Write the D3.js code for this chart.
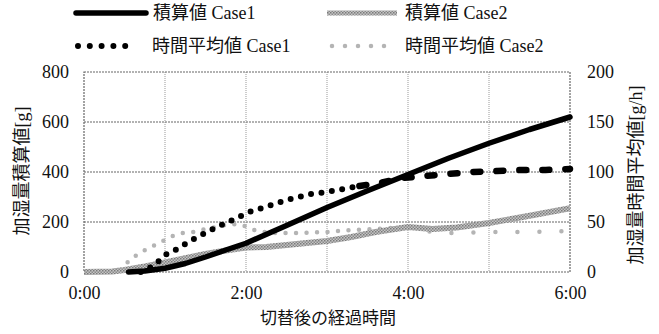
<!DOCTYPE html>
<html>
<head>
<meta charset="utf-8">
<script src="https://cdn.jsdelivr.net/npm/d3@7"></script>
<style>
  body { margin: 0; background: #fff; }
  text { font-family: "Liberation Serif", "Noto Sans CJK JP", serif; fill: #111; }
</style>
</head>
<body>
<div id="chart"></div>
<script>
// hours after switching / values
var cum1T = [0.55, 0.75, 1, 1.25, 1.5, 1.75, 2, 2.5, 3, 3.5, 4, 4.5, 5, 5.5, 6];
var cum1V = [0, 4, 15, 34, 60, 88, 115, 186, 258, 325, 390, 455, 515, 570, 620];

var cum2T = [0, 0.35, 0.5, 0.75, 1, 1.25, 1.5, 1.75, 2, 2.25, 2.5, 3, 3.3, 3.6, 4, 4.3, 4.6, 5, 5.5, 6];
var cum2V = [0, 2, 8, 22, 38, 55, 72, 86, 98, 100, 108, 124, 140, 160, 180, 172, 178, 196, 225, 255];

var avg1T = [0.7, 0.81, 0.91, 1.02, 1.15, 1.27, 1.4, 1.52, 1.64, 1.78, 1.91, 2.04, 2.2, 2.35, 2.5, 2.65, 2.8, 3, 3.2, 3.4, 3.65, 3.93, 4.2, 4.5, 4.8, 5.1, 5.4, 5.7, 6];
var avg1V = [0, 4, 10, 18, 23, 29, 35, 40, 45, 50, 55, 60, 64, 68, 72, 75, 78, 80, 83, 86, 89, 94, 96, 98, 100, 101, 102, 102, 103];

var avg2T = [0.45, 0.48, 0.58, 0.69, 0.8, 0.93, 1.06, 1.22, 1.35, 1.5, 1.64, 1.8, 1.95, 2.1, 2.3, 2.6, 3, 3.3, 3.6, 4, 4.2, 4.5, 5, 5.5, 6];
var avg2V = [2, 5, 13, 19, 24, 29, 35, 39, 40, 43, 45, 48, 47, 42, 39, 39, 40, 42, 43, 45, 41, 39, 40, 40, 41];

var xTicks = [0, 2, 4, 6];
var yLeftTicks = [0, 200, 400, 600, 800];
var yRightTicks = [0, 50, 100, 150, 200];

var legendNames = ["積算値 Case1", "積算値 Case2", "時間平均値 Case1", "時間平均値 Case2"];
var xTitle = "切替後の経過時間";
var yLeftTitle = "加湿量積算値[g]";
var yRightTitle = "加湿量時間平均値[g/h]";

var width = 659, height = 334;
// plot box in pixels
var plotL = 84, plotR = 570, plotT = 72, plotB = 272;

var svg = d3.select('#chart').append('svg')
            .attr('width', width)
            .attr('height', height);

var defs = svg.append('defs');
var hatch = defs.append('pattern')
               .attr('id', 'hatch')
               .attr('patternUnits', 'userSpaceOnUse')
               .attr('width', 3).attr('height', 3);
hatch.append('rect').attr('width', 3).attr('height', 3).attr('fill', '#c4c4c4');
hatch.append('rect').attr('width', 1.5).attr('height', 1.5).attr('fill', '#7a7a7a');
hatch.append('rect').attr('x', 1.5).attr('y', 1.5).attr('width', 1.5).attr('height', 1.5).attr('fill', '#8a8a8a');

var x = d3.scaleLinear().domain([0, 6]).range([plotL, plotR]);
var yL = d3.scaleLinear().domain([0, 800]).range([plotB, plotT]);
var yR = d3.scaleLinear().domain([0, 200]).range([plotB, plotT]);

// grid
svg.append('g').selectAll('line').data(d3.range(1, 6))
  .enter().append('line')
  .attr('x1', function(d){ return x(d); }).attr('x2', function(d){ return x(d); })
  .attr('y1', plotT).attr('y2', plotB)
  .attr('stroke', '#999').attr('stroke-dasharray', '1,1');
svg.append('g').selectAll('line').data([200, 400, 600])
  .enter().append('line')
  .attr('x1', plotL).attr('x2', plotR)
  .attr('y1', function(d){ return yL(d); }).attr('y2', function(d){ return yL(d); })
  .attr('stroke', '#666').attr('stroke-width', 1.2).attr('stroke-dasharray', '2,1');
svg.append('rect')
  .attr('x', plotL).attr('y', plotT)
  .attr('width', plotR - plotL).attr('height', plotB - plotT)
  .attr('fill', 'none').attr('stroke', '#666').attr('stroke-width', 1.2)
  .attr('stroke-dasharray', '2,1');

// axes
var fontSize = 18;
var gL = svg.append('g').attr('transform', 'translate(' + plotL + ',0)')
  .call(d3.axisLeft(yL).tickValues(yLeftTicks).tickSize(0).tickPadding(15));
var gR = svg.append('g').attr('transform', 'translate(' + plotR + ',0)')
  .call(d3.axisRight(yR).tickValues(yRightTicks).tickSize(0).tickPadding(17));
var gB = svg.append('g').attr('transform', 'translate(0,' + plotB + ')')
  .call(d3.axisBottom(x).tickValues(xTicks).tickSize(0).tickPadding(14)
    .tickFormat(function(d){ return d + ':00'; }));
[gL, gR, gB].forEach(function(g){
  g.select('.domain').remove();
  g.selectAll('text').attr('font-size', fontSize)
    .style('font-family', '"Liberation Serif", serif').attr('fill', '#111');
});

// lines
var lineL = d3.line().x(function(d){ return x(d[0]); }).y(function(d){ return yL(d[1]); });
var lineR = d3.line().x(function(d){ return x(d[0]); }).y(function(d){ return yR(d[1]); });
var zip = function(t, v){ return t.map(function(d, i){ return [d, v[i]]; }); };

var cum1 = zip(cum1T, cum1V), cum2 = zip(cum2T, cum2V);
var avg1 = zip(avg1T, avg1V), avg2 = zip(avg2T, avg2V);

svg.append('path').datum(avg2.filter(function(d){ return d[0] <= 4; }))
  .attr('d', lineR).attr('fill', 'none').attr('stroke', '#b4b4b4')
  .attr('stroke-width', 4.5).attr('stroke-linecap', 'round').attr('stroke-dasharray', '0,10.5');
svg.append('path').datum(avg2.filter(function(d){ return d[0] >= 4; }))
  .attr('d', lineR).attr('fill', 'none').attr('stroke', '#b4b4b4')
  .attr('stroke-width', 4.5).attr('stroke-linecap', 'round').attr('stroke-dasharray', '0,22');

svg.append('path').datum(cum2)
  .attr('d', lineL).attr('fill', 'none').attr('stroke', 'url(#hatch)')
  .attr('stroke-width', 6).attr('stroke-linejoin', 'round');

svg.append('path').datum(avg1.filter(function(d){ return d[0] <= 3.4; }))
  .attr('d', lineR).attr('fill', 'none').attr('stroke', '#000')
  .attr('stroke-width', 6).attr('stroke-linecap', 'round').attr('stroke-dasharray', '0,10.5');
svg.append('path').datum(avg1.filter(function(d){ return d[0] >= 3.4; }))
  .attr('d', lineR).attr('fill', 'none').attr('stroke', '#000')
  .attr('stroke-width', 6.5).attr('stroke-linecap', 'round').attr('stroke-dasharray', '7,16');

svg.append('path').datum(cum1)
  .attr('d', lineL).attr('fill', 'none').attr('stroke', '#000')
  .attr('stroke-width', 5.5).attr('stroke-linecap', 'round').attr('stroke-linejoin', 'round');

// legend
var legend = svg.append('g');
legend.append('line').attr('x1', 76).attr('x2', 146).attr('y1', 13).attr('y2', 13)
  .attr('stroke', '#000').attr('stroke-width', 5.5).attr('stroke-linecap', 'round');
legend.append('line').attr('x1', 327).attr('x2', 397).attr('y1', 13).attr('y2', 13)
  .attr('stroke', 'url(#hatch)').attr('stroke-width', 5);
legend.append('line').attr('x1', 78).attr('x2', 137).attr('y1', 46).attr('y2', 46)
  .attr('stroke', '#000').attr('stroke-width', 6).attr('stroke-linecap', 'round')
  .attr('stroke-dasharray', '0,11.8');
legend.append('line').attr('x1', 332).attr('x2', 397).attr('y1', 46).attr('y2', 46)
  .attr('stroke', '#b4b4b4').attr('stroke-width', 4.5).attr('stroke-linecap', 'round')
  .attr('stroke-dasharray', '0,13');
var legendPos = [[153, 19], [405, 19], [152, 52], [405, 52]];
legend.selectAll('text').data(legendNames)
  .enter().append('text')
  .attr('x', function(d, i){ return legendPos[i][0]; })
  .attr('y', function(d, i){ return legendPos[i][1]; })
  .attr('font-size', 18)
  .text(function(d){ return d; });

// titles
svg.append('text').attr('x', 328).attr('y', 324)
  .attr('text-anchor', 'middle').attr('font-size', 17).text(xTitle);
svg.append('text').attr('transform', 'translate(28,171) rotate(-90)')
  .attr('text-anchor', 'middle').attr('font-size', 18).text(yLeftTitle);
svg.append('text').attr('transform', 'translate(642,175) rotate(-90)')
  .attr('text-anchor', 'middle').attr('font-size', 18).text(yRightTitle);
</script>
</body>
</html>
